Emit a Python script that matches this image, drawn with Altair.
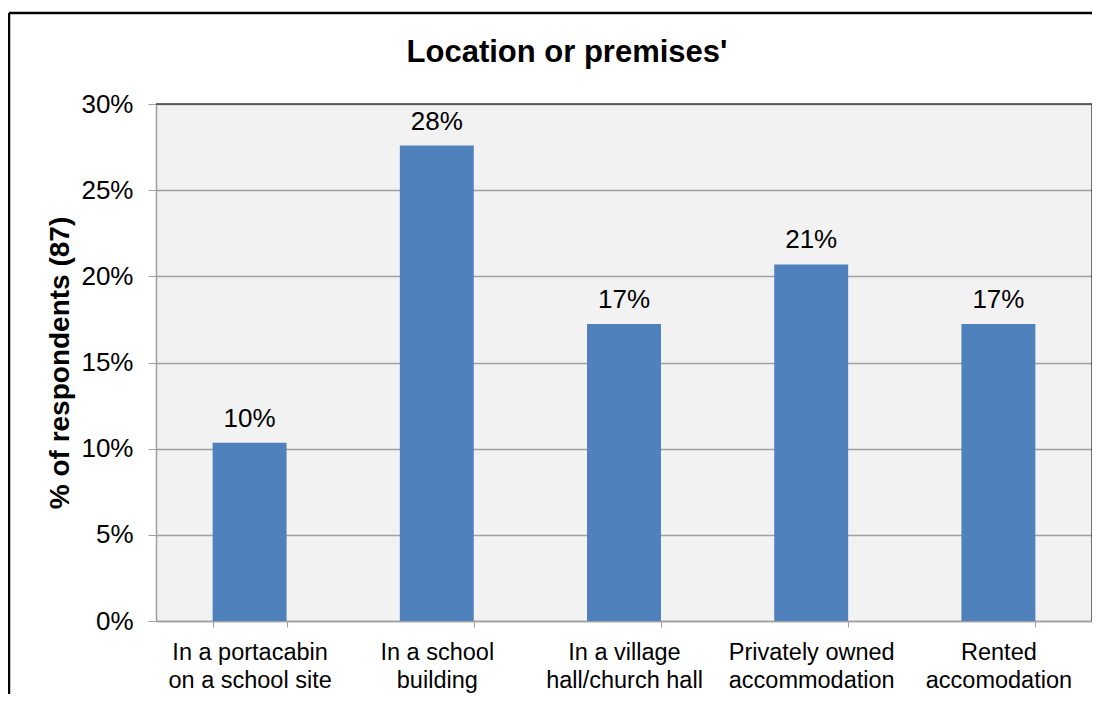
import altair as alt
import pandas as pd

categories = [
    "In a portacabin\non a school site",
    "In a school\nbuilding",
    "In a village\nhall/church hall",
    "Privately owned\naccommodation",
    "Rented\naccomodation",
]
values = [0.1034, 0.2759, 0.1724, 0.2069, 0.1724]
y_ticks = [0, 0.05, 0.10, 0.15, 0.20, 0.25, 0.30]
chart_title = "Location or premises'"
y_title = "% of respondents (87)"

FONT = "Liberation Sans, Arial, sans-serif"
W, H = 936, 517

df = pd.DataFrame({"cat": categories, "value": values})

x_enc = alt.X(
    "cat:N",
    sort=categories,
    scale=alt.Scale(paddingInner=0.605, paddingOuter=0.3025),
    axis=alt.Axis(
        title=None,
        labelAngle=0,
        labelExpr="split(datum.label, '\\n')",
        labelFontSize=23.5,
        labelFont=FONT,
        labelColor="#000000",
        labelLineHeight=28,
        labelPadding=13,
        labelBaseline="top",
        tickBand="extent",
        tickSize=6,
        tickColor="#A0A0A0",
        domainColor="#A0A0A0",
        domainWidth=1.5,
        grid=False,
    ),
)
y_enc = alt.Y(
    "value:Q",
    scale=alt.Scale(domain=[0, 0.30], nice=False),
    axis=alt.Axis(
        values=y_ticks,
        format=".0%",
        title=y_title,
        titleFont=FONT,
        titleFontSize=28,
        titleFontWeight="bold",
        titleColor="#000000",
        titleAngle=270,
        titleX=-96,
        titleY=H / 2,
        titleAlign="center",
        titleBaseline="middle",
        labelFont=FONT,
        labelFontSize=26,
        labelColor="#000000",
        labelPadding=15,
        tickSize=8,
        tickColor="#A0A0A0",
        domainColor="#A0A0A0",
        domainWidth=1.5,
        grid=True,
        gridColor="#A0A0A0",
        gridWidth=1.3,
    ),
)

base = alt.Chart(df)
bars = base.mark_bar(color="#4F81BD").encode(x=x_enc, y=y_enc)
labels = base.mark_text(
    dy=-16, baseline="alphabetic", align="center", fontSize=26, font=FONT, color="#000000"
).encode(x=alt.X("cat:N", sort=categories), y="value:Q", text=alt.Text("value:Q", format=".0%"))

one = alt.Data(values=[{"k": 1}])
plot_top = alt.Chart(one).mark_rule(color="#404040", strokeWidth=1.5).encode(
    x=alt.value(0), x2=alt.value(W), y=alt.value(0)
)
plot_right = alt.Chart(one).mark_rule(color="#404040", strokeWidth=1.5).encode(
    x=alt.value(W), y=alt.value(0), y2=alt.value(H)
)
outer_left = alt.Chart(one).mark_rule(color="#000000", strokeWidth=2.5).encode(
    x=alt.value(-147), y=alt.value(-91), y2=alt.value(600)
)
outer_top = alt.Chart(one).mark_rule(color="#000000", strokeWidth=2.5).encode(
    x=alt.value(-147), x2=alt.value(960), y=alt.value(-91)
)
title = alt.Chart(one).mark_text(
    align="center", baseline="alphabetic", fontSize=31, fontWeight="bold", font=FONT, color="#000000"
).encode(x=alt.value(411), y=alt.value(-42), text=alt.value(chart_title))

chart = (
    alt.layer(bars, labels, plot_top, plot_right, outer_left, outer_top, title)
    .properties(
        width=W,
        height=H,
        autosize=alt.AutoSizeParams(type="none"),
        padding={"left": 148, "top": 96, "right": 0, "bottom": 73},
        background="#FFFFFF",
    )
    .configure_view(fill="#F2F2F2", stroke="transparent")
)

chart.save("out.html", embed_options={"renderer": "svg", "actions": False})
